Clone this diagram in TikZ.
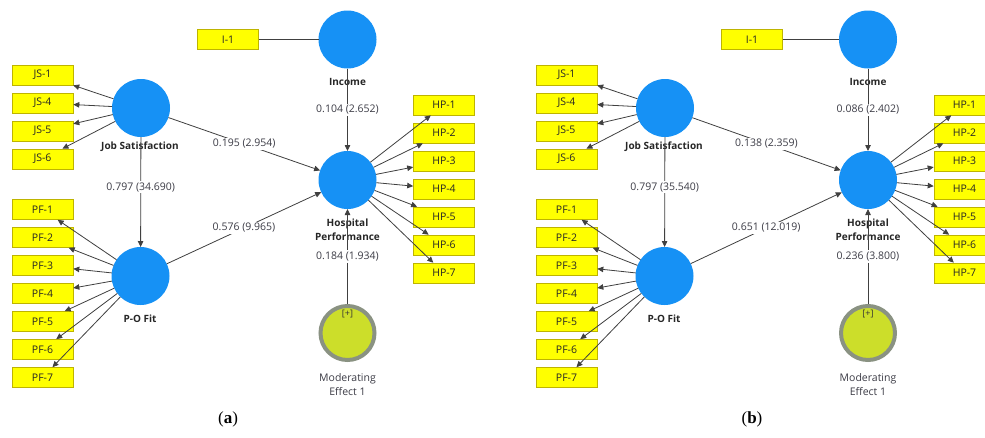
\documentclass[tikz,border=0pt]{standalone}
\usepackage{fontspec}
\setmainfont{Open Sans}
\newfontfamily\panelfont{Liberation Serif}
\usetikzlibrary{arrows.meta}
\definecolor{lvblue}{RGB}{22,145,245}
\definecolor{indyel}{RGB}{255,255,0}
\definecolor{indborder}{RGB}{190,180,0}
\definecolor{modfill}{RGB}{204,222,42}
\definecolor{modborder}{RGB}{138,146,130}
\definecolor{linegray}{RGB}{64,64,64}
\definecolor{txtgray}{RGB}{60,60,70}
\tikzset{
  latent/.style={circle, fill=lvblue, minimum size=58pt, inner sep=0pt, outer sep=0pt},
  modnode/.style={circle, fill=modfill, draw=modborder, line width=4pt, minimum size=54pt, inner sep=0pt},
  ind/.style={rectangle, fill=indyel, draw=indborder, line width=0.6pt, minimum width=61pt, minimum height=20pt, inner sep=0pt, font=\fontsize{10.5}{11}\selectfont, text=black!85},
  lvname/.style={font=\bfseries\fontsize{10}{14}\selectfont, text=black!85, align=center},
  modname/.style={font=\fontsize{10.5}{14}\selectfont, text=txtgray, align=center},
  coef/.style={fill=white, inner sep=1.5pt, font=\fontsize{10.5}{11}\selectfont, text=txtgray},
  conn/.style={draw=linegray, line width=0.8pt},
  arr/.style={conn, -{Triangle[length=6pt,width=5.5pt]}},
  panellbl/.style={font=\panelfont\fontsize{17}{19}\selectfont, text=black},
}
% #1 left shift, #2 right shift, #3 js-hp, #4 pf-hp, #5 js-pf, #6 inc-hp, #7 mod-hp, #8 letter
\newcommand{\drawpanel}[8]{%
  \begin{scope}[xshift=#1pt]
    \node[latent] (#8js) at (141,108) {};
    \node[lvname] (#8jsn) at (140,147) {Job Satisfaction};
    \node[latent] (#8pf) at (140.5,276) {};
    \node[lvname] (#8pfn) at (140,319) {P-O Fit};
    \foreach \t/\y in {1/75,4/103,5/131,6/159}
      \node[ind] (#8js\t) at (42.5,\y) {JS-\t};
    \foreach \t/\y in {1/209.5,2/237.5,3/265.5,4/293.5,5/321.5,6/349.5,7/377.5}
      \node[ind] (#8pf\t) at (42.5,\y) {PF-\t};
    \node[ind] (#8ione) at (228,39.5) {I-1};
    \node[panellbl] (#8cap) at (228,419) {(\textbf{#8})};
  \end{scope}
  \begin{scope}[xshift=#2pt]
    \node[latent] (#8inc) at (347.5,39.5) {};
    \node[lvname] (#8incn) at (347.5,82) {Income};
    \node[latent] (#8hp) at (347.5,180) {};
    \node[lvname] (#8hpn) at (347.5,230) {Hospital\\Performance};
    \node[modnode] (#8mod) at (347.5,333) {};
    \node[font=\fontsize{9}{10}\selectfont, text=black!80, inner sep=0pt] (#8plus) at (347.5,314) {[+]};
    \node[modname] (#8modn) at (347.5,385) {Moderating\\Effect 1};
    \foreach \t/\y in {1/105,2/133,3/161,4/189,5/217,6/245,7/273}
      \node[ind] (#8hp\t) at (444,\y) {HP-\t};
  \end{scope}
  \foreach \t in {1,4,5,6} \draw[arr] (#8js) -- (#8js\t);
  \foreach \t in {1,...,7} \draw[arr] (#8pf) -- (#8pf\t);
  \foreach \t in {1,...,7} \draw[arr] (#8hp) -- (#8hp\t);
  \draw[conn] (#8ione) -- (#8inc);
  \draw[arr] (#8inc) -- node[coef] {#6} (#8hp);
  \draw[arr] (#8js) -- node[coef] {#3} (#8hp);
  \draw[arr] (#8pf) -- node[coef] {#4} (#8hp);
  \draw[arr] (#8js) -- node[coef, pos=0.455] {#5} (#8pf);
  \draw[arr] (#8mod) -- node[coef] {#7} (#8hp);
}
\begin{document}
\begin{tikzpicture}[x=1pt,y=-1pt]
  \clip (0,0) rectangle (985,437);
  \fill[white] (0,0) rectangle (985,437);
  \drawpanel{0}{0}{0.195 (2.954)}{0.576 (9.965)}{0.797 (34.690)}{0.104 (2.652)}{0.184 (1.934)}{a}
  \drawpanel{524}{520.5}{0.138 (2.359)}{0.651 (12.019)}{0.797 (35.540)}{0.086 (2.402)}{0.236 (3.800)}{b}
\end{tikzpicture}
\end{document}
